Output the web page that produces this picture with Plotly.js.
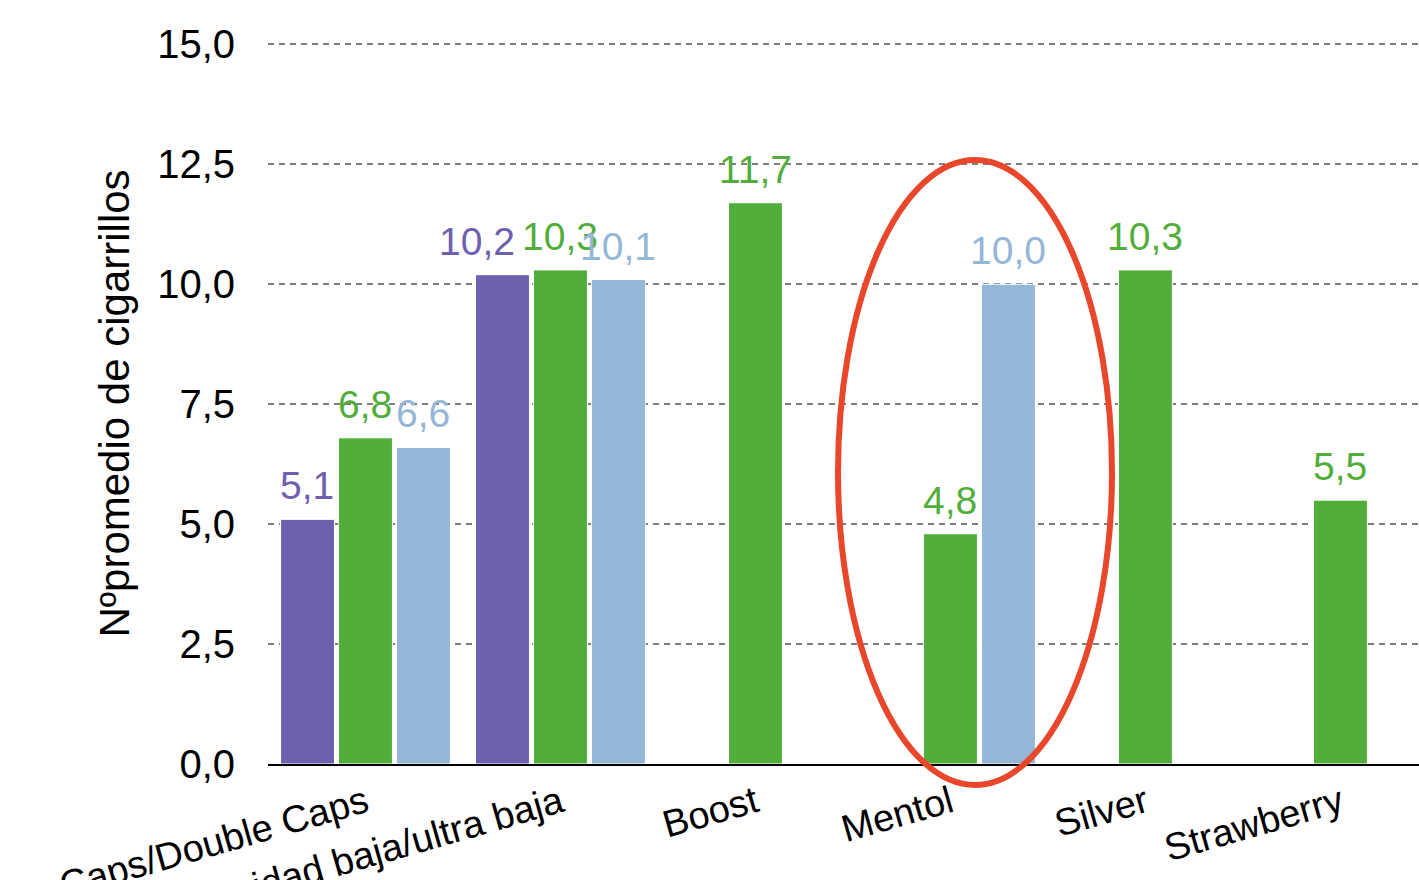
<!DOCTYPE html>
<html>
<head>
<meta charset="utf-8">
<script src="https://cdn.plot.ly/plotly-3.0.1.min.js"></script>
<style>
  html, body { margin: 0; padding: 0; background: #ffffff; }
  #chart { width: 1419px; height: 880px; }
</style>
</head>
<body>
<div id="chart"></div>
<script>
// ---- data ----
const categories = ["Caps/Double Caps", "Intensidad baja/ultra baja", "Boost", "Mentol", "Silver", "Strawberry"];
const seriesPurple = [5.1, 10.2, null, null, null, null];
const seriesGreen  = [6.8, 10.3, 11.7, 4.8, 10.3, 5.5];
const seriesBlue   = [6.6, 10.1, null, 10.0, null, null];
const yTickValues  = [0, 2.5, 5, 7.5, 10, 12.5, 15];
const yTitle = "Nºpromedio de cigarrillos";

const FONT = "'Liberation Sans', 'Helvetica Neue', Arial, sans-serif";
const colors = { purple: "#6e60ae", green: "#52ae3a", blue: "#94b7d8" };

const series = [
  { vals: seriesPurple, color: colors.purple, name: "s1" },
  { vals: seriesGreen,  color: colors.green,  name: "s2" },
  { vals: seriesBlue,   color: colors.blue,   name: "s3" }
];

const data = series.map(s => ({
  type: "bar",
  name: s.name,
  x: categories,
  y: s.vals,
  marker: { color: s.color, line: { color: "#ffffff", width: 1 } },
  hoverinfo: "x+y"
}));

// value labels as annotations, positioned over each bar slot
const slotPx = 58;
const annotations = [];
series.forEach((s, si) => {
  s.vals.forEach((v, i) => {
    if (v === null) return;
    let xs = (si - 1) * slotPx;
    // Excel-style nudge to avoid overlapping labels in the crowded group
    if (si === 0 && i === 1) xs -= 25;
    annotations.push({
      x: categories[i], y: v, xref: "x", yref: "y",
      text: v.toFixed(1).replace(".", ","),
      showarrow: false, xanchor: "center", yanchor: "bottom",
      xshift: xs, yshift: 10,
      font: { family: FONT, size: 39, color: s.color }
    });
  });
});

const plotH = 880 - 43 - 116;
const layout = {
  width: 1419,
  height: 880,
  margin: { l: 268, r: 0, t: 43, b: 116 },
  paper_bgcolor: "#ffffff",
  plot_bgcolor: "#ffffff",
  separators: ",.",
  showlegend: false,
  barmode: "group",
  bargap: 0.108,
  bargroupgap: 0.07,
  font: { family: FONT, color: "#000000" },
  xaxis: {
    type: "category",
    range: [-0.5, 5.403],
    showgrid: false,
    zeroline: false,
    showline: true,
    linecolor: "#000000",
    linewidth: 2,
    ticks: "",
    tickangle: -16,
    tickfont: { family: FONT, size: 38, color: "#000000" },
    automargin: false
  },
  yaxis: {
    range: [0, 15.03],
    tickvals: yTickValues,
    tickformat: ".1f",
    showgrid: true,
    gridcolor: "#7f7f7f",
    gridwidth: 2,
    griddash: "6px,5px",
    zeroline: false,
    showline: false,
    ticks: "",
    ticklabelstandoff: 32,
    tickfont: { family: FONT, size: 40, color: "#000000" },
    automargin: false,
    title: { text: yTitle, font: { family: FONT, size: 42, color: "#000000" }, standoff: 14 }
  },
  annotations: annotations,
  shapes: [
    {
      type: "circle",
      xref: "paper",
      yref: "paper",
      x0: (838 - 268) / 1151,
      x1: (1112 - 268) / 1151,
      y0: (764 - 785) / plotH,
      y1: (764 - 160) / plotH,
      line: { color: "#e8472b", width: 6 },
      layer: "above"
    }
  ]
};

Plotly.newPlot("chart", data, layout, { displayModeBar: false, staticPlot: true });
</script>
</body>
</html>
